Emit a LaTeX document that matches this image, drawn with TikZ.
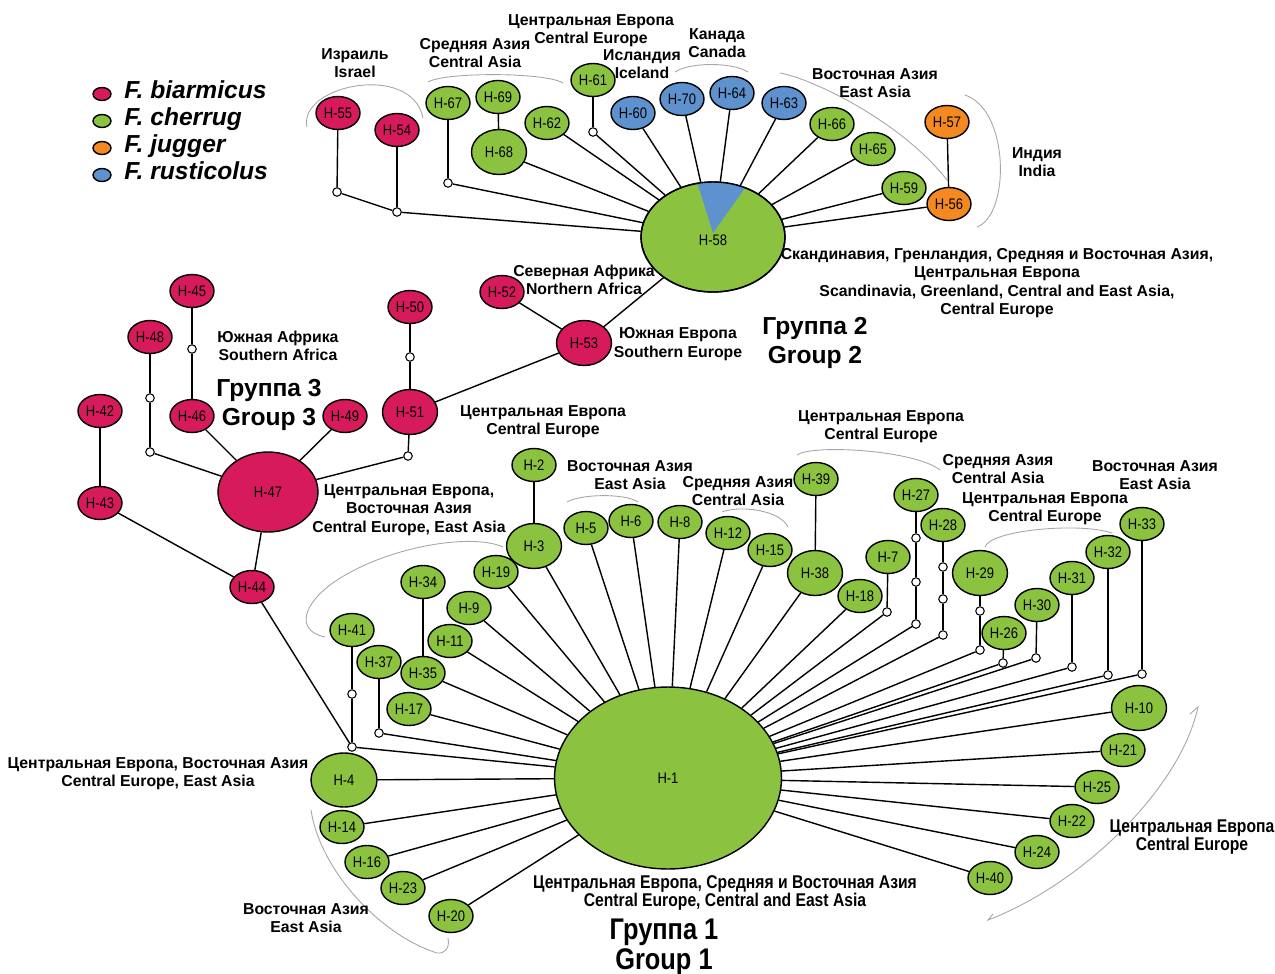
\documentclass[tikz,border=0pt]{standalone}
\usepackage{fontspec}
\setmainfont{Liberation Sans}
\newfontfamily\narrowfont[FakeStretch=0.85]{Liberation Sans}
\usetikzlibrary{shapes, positioning}

\definecolor{biacol}{RGB}{214,26,92}
\definecolor{checol}{RGB}{139,195,64}
\definecolor{jugcol}{RGB}{243,137,32}
\definecolor{ruscol}{RGB}{94,146,206}

\begin{document}
\begin{tikzpicture}[x=0.02cm,y=-0.02cm,line width=0.8pt]

	\tikzset{hap/.style={ellipse, draw=black, line width=0.8pt, inner sep=0pt,
			minimum width=0.88cm, minimum height=0.66cm,
			font=\narrowfont\fontsize{8.7}{9}\selectfont},
		bighap/.style={minimum width=1.1cm, minimum height=0.9cm},
		bia/.style={hap, fill=biacol},
		che/.style={hap, fill=checol},
		jug/.style={hap, fill=jugcol},
		rus/.style={hap, fill=ruscol},
		mvec/.style={circle, draw=black, fill=white, line width=0.6pt,
			inner sep=0pt, minimum size=0.17cm},
		areatext/.style={font=\bfseries\fontsize{9}{10.4}\selectfont,
			align=center, inner sep=0pt},
		narrowtext/.style={font=\narrowfont\bfseries\fontsize{10.5}{10.4}\selectfont,
			align=center, inner sep=0pt},
		grouptext/.style={font=\bfseries\fontsize{14}{17}\selectfont,
			align=center, inner sep=0pt},
		narrowgroup/.style={font=\narrowfont\bfseries\fontsize{17}{17}\selectfont,
			align=center, inner sep=0pt},
		bracket/.style={draw=gray!70, line width=0.5pt}}

	\useasboundingbox (0,0) rectangle (1275,974);

	% legend
	\foreach \sp/\col [count=\i] in {biarmicus/biacol, cherrug/checol,
		jugger/jugcol, rusticolus/ruscol} {
		\node[ellipse, draw=black, fill=\col, line width=0.8pt, inner sep=0pt,
		minimum width=0.36cm, minimum height=0.26cm] (leg\i) at (102,{94+27*(\i-1)}) {};
		\node[right=0.24cm of leg\i, inner sep=0pt, text height=0.72em, text depth=0.2em,
		font=\bfseries\itshape\fontsize{14}{15}\selectfont] {F. \sp};
	}

	% group 2
	\node[bia] (H55) at (338,113) {H-55};
	\node[bia] (H54) at (397,130) {H-54};
	\node[mvec] (J55) at (337,192) {};
	\node[mvec] (J54) at (397,212) {};
	\node[che] (H67) at (448,103) {H-67};
	\node[mvec] (J67) at (448,183) {};
	\node[che] (H69) at (498,97) {H-69};
	\node[che,bighap] (H68) at (499,152) {H-68};
	\node[che] (H62) at (547,123) {H-62};
	\node[che] (H61) at (593,80) {H-61};
	\node[mvec] (J61) at (593,132) {};
	\node[rus] (H60) at (633,113) {H-60};
	\node[rus] (H70) at (682,99) {H-70};
	\node[rus] (H64) at (732,93) {H-64};
	\node[rus] (H63) at (784,103) {H-63};
	\node[che] (H66) at (832,124) {H-66};
	\node[che] (H65) at (873,149) {H-65};
	\node[che] (H59) at (904,188) {H-59};
	\node[jug] (H57) at (947,122) {H-57};
	\node[jug] (H56) at (949,204) {H-56};
	\node[che, minimum width=2.88cm, minimum height=2.2cm] (H58) at (713,237) {};
	\begin{scope}
		\clip (713,237) ellipse [x radius=1.44cm, y radius=1.1cm];
		\fill[ruscol] (713,233) -- (687,150) -- (772,150) -- cycle;
	\end{scope}
	\draw (713,237) ellipse [x radius=1.44cm, y radius=1.1cm];
	\node[font=\narrowfont\fontsize{8.7}{9}\selectfont] at (713,240) {H-58};

	% group 3
	\node[bia] (H52) at (502,292) {H-52};
	\node[bia,bighap] (H53) at (584,343) {H-53};
	\node[bia] (H50) at (410,307) {H-50};
	\node[mvec] (J50) at (410,357) {};
	\node[bia,bighap] (H51) at (410,412) {H-51};
	\node[mvec] (J51) at (408,456) {};
	\node[bia] (H45) at (192,291) {H-45};
	\node[mvec] (J45) at (192,349) {};
	\node[bia] (H46) at (192,416) {H-46};
	\node[bia] (H48) at (150,337) {H-48};
	\node[mvec] (J48a) at (150,398) {};
	\node[mvec] (J48b) at (150,452) {};
	\node[bia] (H42) at (100,411) {H-42};
	\node[bia] (H43) at (100,503) {H-43};
	\node[bia] (H49) at (345,416) {H-49};
	\node[bia, minimum width=2cm, minimum height=1.6cm] (H47) at (268,492) {H-47};
	\node[bia] (H44) at (252,587) {H-44};

	% group 1
	\node[che, minimum width=4.54cm, minimum height=3.64cm] (H1) at (668,778) {H-1};
	\node[che] (H2) at (534,465) {H-2};
	\node[che,bighap] (H3) at (534,546) {H-3};
	\node[che] (H5) at (586,528) {H-5};
	\node[che] (H6) at (631,521) {H-6};
	\node[che] (H8) at (680,522) {H-8};
	\node[che] (H12) at (728,533) {H-12};
	\node[che] (H15) at (770,550) {H-15};
	\node[che] (H39) at (816,479) {H-39};
	\node[che,bighap] (H38) at (815,573) {H-38};
	\node[che] (H18) at (860,596) {H-18};
	\node[che] (H7) at (888,557) {H-7};
	\node[mvec] (J7) at (887,612) {};
	\node[che] (H27) at (916,495) {H-27};
	\node[mvec] (J27a) at (916,538) {};
	\node[mvec] (J27b) at (916,582) {};
	\node[mvec] (J27c) at (916,624) {};
	\node[che] (H28) at (943,525) {H-28};
	\node[mvec] (J28a) at (943,567) {};
	\node[mvec] (J28b) at (943,599) {};
	\node[mvec] (J28c) at (943,635) {};
	\node[che,bighap] (H29) at (980,573) {H-29};
	\node[mvec] (J29a) at (980,611) {};
	\node[mvec] (J29b) at (980,650) {};
	\node[che] (H26) at (1004,633) {H-26};
	\node[mvec] (J26) at (1003,663) {};
	\node[che] (H30) at (1037,605) {H-30};
	\node[mvec] (J30) at (1036,658) {};
	\node[che] (H31) at (1072,578) {H-31};
	\node[mvec] (J31) at (1072,667) {};
	\node[che] (H32) at (1108,552) {H-32};
	\node[mvec] (J32) at (1108,675) {};
	\node[che] (H33) at (1142,524) {H-33};
	\node[mvec] (J33) at (1142,674) {};
	\node[che,bighap] (H10) at (1139,708) {H-10};
	\node[che] (H21) at (1123,750) {H-21};
	\node[che] (H25) at (1097,787) {H-25};
	\node[che] (H22) at (1072,821) {H-22};
	\node[che] (H24) at (1037,852) {H-24};
	\node[che] (H40) at (990,878) {H-40};
	\node[che] (H19) at (496,572) {H-19};
	\node[che] (H9) at (469,608) {H-9};
	\node[che] (H34) at (423,582) {H-34};
	\node[che] (H35) at (423,673) {H-35};
	\node[che] (H11) at (450,641) {H-11};
	\node[che] (H17) at (409,709) {H-17};
	\node[che] (H41) at (352,630) {H-41};
	\node[mvec] (J41a) at (352,694) {};
	\node[mvec] (J41b) at (352,747) {};
	\node[che] (H37) at (379,662) {H-37};
	\node[mvec] (J37) at (379,733) {};
	\node[che, minimum width=1.32cm, minimum height=1.08cm] (H4) at (344,780) {H-4};
	\node[che] (H14) at (342,827) {H-14};
	\node[che] (H16) at (367,862) {H-16};
	\node[che] (H23) at (403,888) {H-23};
	\node[che] (H20) at (451,916) {H-20};

	% links
	\draw (H55) edge (J55) (J55) edge (J54) (J54) edge (H58) (H54) edge (J54)
	(H67) edge (J67) (J67) edge (H58) (H69) edge (H68) (H68) edge (H58)
	(H62) edge (H58) (H61) edge (J61) (J61) edge (H58)
	(H60) edge (H58) (H70) edge (H58) (H64) edge (H58) (H63) edge (H58)
	(H66) edge (H58) (H65) edge (H58) (H59) edge (H58)
	(H57) edge (H56) (H56) edge (H58);

	\draw (H58) edge (H53) (H52) edge (H53) (H53) edge (H51)
	(H50) edge (J50) (J50) edge (H51) (H51) edge (J51) (J51) edge (H47)
	(H45) edge (J45) (J45) edge (H46) (H46) edge (H47)
	(H48) edge (J48a) (J48a) edge (J48b) (J48b) edge (H47)
	(H49) edge (H47) (H47) edge (H44) (H42) edge (H43) (H43) edge (H44)
	(H44) edge (J41b);

	\draw (H2) edge (H3) (H3) edge (H1) (H5) edge (H1) (H6) edge (H1)
	(H8) edge (H1) (H12) edge (H1) (H15) edge (H1)
	(H39) edge (H38) (H38) edge (H1) (H18) edge (H1)
	(H7) edge (J7) (J7) edge (H1)
	(H27) edge (J27a) (J27a) edge (J27b) (J27b) edge (J27c) (J27c) edge (H1)
	(H28) edge (J28a) (J28a) edge (J28b) (J28b) edge (J28c) (J28c) edge (H1)
	(H29) edge (J29a) (J29a) edge (J29b) (J29b) edge (H1)
	(H26) edge (J26) (J26) edge (H1) (H30) edge (J30) (J30) edge (H1)
	(H31) edge (J31) (J31) edge (H1) (H32) edge (J32) (J32) edge (H1)
	(H33) edge (J33) (J33) edge (H1)
	(H10) edge (H1) (H21) edge (H1) (H25) edge (H1) (H22) edge (H1)
	(H24) edge (H1) (H40) edge (H1)
	(H19) edge (H1) (H9) edge (H1) (H34) edge (H35) (H35) edge (H1)
	(H11) edge (H1) (H17) edge (H1)
	(H41) edge (J41a) (J41a) edge (J41b) (J41b) edge (H1)
	(H37) edge (J37) (J37) edge (H1)
	(H4) edge (H1) (H14) edge (H1) (H16) edge (H1) (H23) edge (H1) (H20) edge (H1);

	% region brackets
	\draw[bracket] (307,127) .. controls (298,85) and (412,62) .. (423,118);
	\draw[bracket] (428,82) .. controls (445,72) and (545,72) .. (563,83);
	\draw[bracket] (675,72) .. controls (690,62) and (732,62) .. (748,72);
	\draw[bracket] (780,73) .. controls (810,78) and (900,120) .. (947,180);
	\draw[bracket] (965,95) .. controls (1010,110) and (1010,215) .. (977,227);
	\draw[bracket] (325,637) .. controls (300,632) and (298,610) .. (330,585)
	.. controls (380,548) and (470,532) .. (503,547);
	\draw[bracket] (567,502) .. controls (580,494) and (625,493) .. (638,502);
	\draw[bracket] (722,512) .. controls (740,505) and (780,510) .. (788,527);
	\draw[bracket] (797,455) .. controls (812,444) and (915,450) .. (940,470);
	\draw[bracket] (985,547) .. controls (990,530) and (1080,522) .. (1112,533);
	\draw[bracket] (1190,714) -- (1198,707) .. controls (1180,790) and (1080,885) .. (988,920)
	-- (993,914);
	\draw[bracket] (311,810) .. controls (320,870) and (380,935) .. (437,953)
	.. controls (445,954) and (450,948) .. (448,938);

	% region labels
	\node[areatext] at (355,63) {Израиль\\Israel};
	\node[areatext] at (475,53) {Средняя Азия\\Central Asia};
	\node[areatext] at (591,31) {Центральная Европа\\Central Europe};
	\node[areatext] at (642,64) {Исландия\\Iceland};
	\node[areatext] at (717,43) {Канада\\Canada};
	\node[areatext] at (875,83) {Восточная Азия\\East Asia};
	\node[areatext] at (1037,162) {Индия\\India};
	\node[areatext] at (997,283) {Скандинавия, Гренландия, Средняя и Восточная Азия,\\
		Центральная Европа\\Scandinavia, Greenland, Central and East Asia,\\Central Europe};
	\node[areatext] at (584,280) {Северная Африка\\Northern Africa};
	\node[areatext] at (678,344) {Южная Европа\\Southern Europe};
	\node[grouptext] at (815,343) {Группа 2\\Group 2};
	\node[areatext] at (278,346) {Южная Африка\\Southern Africa};
	\node[grouptext] at (269,405) {Группа 3\\Group 3};
	\node[areatext] at (543,422) {Центральная Европа\\Central Europe};
	\node[areatext] at (409,510) {Центральная Европа,\\Восточная Азия\\Central Europe, East Asia};
	\node[areatext] at (630,475) {Восточная Азия\\East Asia};
	\node[areatext] at (738,491) {Средняя Азия\\Central Asia};
	\node[areatext] at (881,427) {Центральная Европа\\Central Europe};
	\node[areatext] at (998,469) {Средняя Азия\\Central Asia};
	\node[areatext] at (1045,509) {Центральная Европа\\Central Europe};
	\node[areatext] at (1155,475) {Восточная Азия\\East Asia};
	\node[areatext] at (158,774) {Центральная Европа, Восточная Азия\\Central Europe, East Asia};
	\node[areatext] at (306,918) {Восточная Азия\\East Asia};
	\node[narrowtext] at (725,893) {Центральная Европа, Средняя и Восточная Азия\\
		Central Europe, Central and East Asia};
	\node[narrowgroup] at (664,947) {Группа 1\\Group 1};
	\node[narrowtext] at (1192,837) {Центральная Европа\\Central Europe};

\end{tikzpicture}
\end{document}
